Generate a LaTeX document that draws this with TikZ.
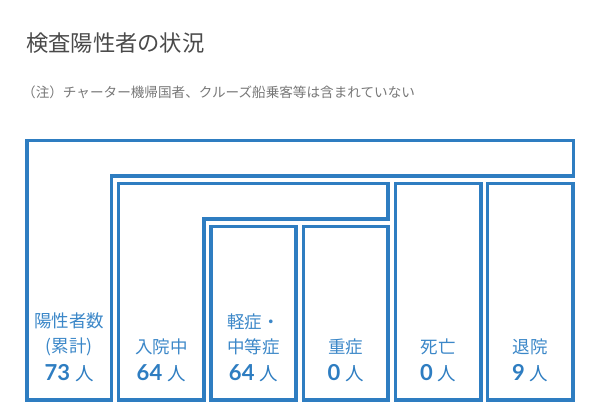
\documentclass[tikz,border=0pt]{standalone}
\usepackage{fontspec}
\setmainfont{Noto Sans CJK JP}
\newfontfamily\numfont{Lato}
\definecolor{boxblue}{HTML}{2E7DC1}
\definecolor{labelblue}{HTML}{3B87C8}
\definecolor{titlegray}{HTML}{4A4A4A}
\definecolor{notegray}{HTML}{777777}
\newcommand{\countnum}[1]{{\numfont\bfseries\fontsize{22}{22}\selectfont #1}\hspace{5pt}人}
\begin{document}
\begin{tikzpicture}[x=1pt, y=-1pt, box/.style={draw=boxblue, line width=3.2pt}, label/.style={text=labelblue, font=\fontsize{17.5}{25.5}\selectfont, align=center, inner sep=0pt}, count/.style={text=boxblue, font=\fontsize{18.5}{20}\selectfont, inner sep=0pt}]
\useasboundingbox (0,0) rectangle (600,418);
\node (title) at (26,43) [anchor=west, inner sep=0pt, text=titlegray, font=\fontsize{22.3}{26}\selectfont] {検査陽性者の状況};
\node (note) at (22,92) [anchor=west, inner sep=0pt, text=notegray, font=\fontsize{13.6}{16}\selectfont] {（注）チャーター機帰国者、クルーズ船乗客等は含まれていない};

% nested boxes
\draw[box] (27,400) -- (27,140.5) -- (573.5,140.5) -- (573.5,176) -- (111.5,176) -- (111.5,400) -- cycle;
\draw[box] (118.5,400) -- (118.5,183.5) -- (388,183.5) -- (388,219) -- (204,219) -- (204,400) -- cycle;
\draw[box] (211,226.5) rectangle (296,400);
\draw[box] (303.5,226.5) rectangle (388,400);
\draw[box] (395.5,183.5) rectangle (481,400);
\draw[box] (487.5,183.5) rectangle (573,400);

\node (positive) at (69.25,334.5) [label] {陽性者数\\(累計)};
\node (inpatient) at (161.25,347) [label] {入院中};
\node (mild) at (253.5,334.5) [label] {軽症・\\中等症};
\node (severe) at (345.75,347) [label] {重症};
\node (death) at (438.25,347) [label] {死亡};
\node (discharged) at (530.25,347) [label] {退院};

\node (positiveN) at (69.25,373) [count] {\countnum{73}};
\node (inpatientN) at (161.25,373) [count] {\countnum{64}};
\node (mildN) at (253.5,373) [count] {\countnum{64}};
\node (severeN) at (345.75,373) [count] {\countnum{0}};
\node (deathN) at (438.25,373) [count] {\countnum{0}};
\node (dischargedN) at (530.25,373) [count] {\countnum{9}};
\end{tikzpicture}
\end{document}
